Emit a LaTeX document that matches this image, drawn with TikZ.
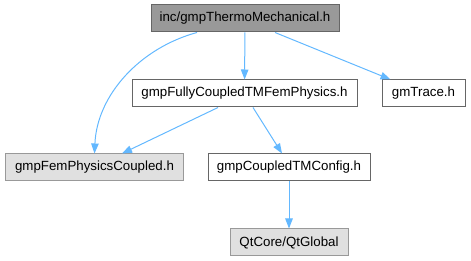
\documentclass[tikz,border=0pt]{standalone}
\usepackage{fontspec}
\setmainfont{Liberation Sans}
\usetikzlibrary{arrows.meta}
\definecolor{edgeblue}{HTML}{63B8FF}
\definecolor{topfill}{HTML}{999999}
\definecolor{darkborder}{HTML}{666666}
\definecolor{lightfill}{HTML}{E0E0E0}
\definecolor{lightborder}{HTML}{999999}
\tikzset{
  box/.style={draw=darkborder, line width=1pt, fill=white, minimum height=27pt, inner sep=0pt, font=\fontsize{13.3}{15}\selectfont},
  topbox/.style={box, fill=topfill},
  extbox/.style={box, draw=lightborder, fill=lightfill},
  dep/.style={draw=edgeblue, line width=1pt, -{Triangle[length=10pt,width=7.5pt]}},
}
\begin{document}
\begin{tikzpicture}[x=1pt,y=-1pt]
\useasboundingbox (0,0) rectangle (471,261);
\node[topbox, minimum width=188pt] (top) at (245,18.5) {inc/gmpThermoMechanical.h};
\node[box, minimum width=225pt] (fully) at (244.5,93.5) {gmpFullyCoupledTMFemPhysics.h};
\node[box, minimum width=83pt] (trace) at (423.5,93.5) {gmTrace.h};
\node[extbox, minimum width=178pt] (fem) at (94.5,167.5) {gmpFemPhysicsCoupled.h};
\node[box, minimum width=162pt] (config) at (289,167.5) {gmpCoupledTMConfig.h};
\node[extbox, minimum width=118pt] (qt) at (289,242.5) {QtCore/QtGlobal};
\draw[dep] (top) -- (fully);
\draw[dep] ([xshift=30pt]top.south) -- ([xshift=-33pt]trace.north);
\draw[dep] ([xshift=-48pt]top.south) .. controls (140,48) and (97,95) .. (fem.north);
\draw[dep] ([xshift=-26.5pt]fully.south) -- ([xshift=27.5pt]fem.north);
\draw[dep] ([xshift=8.5pt]fully.south) -- ([xshift=-7pt]config.north);
\draw[dep] (config) -- (qt);
\end{tikzpicture}
\end{document}
